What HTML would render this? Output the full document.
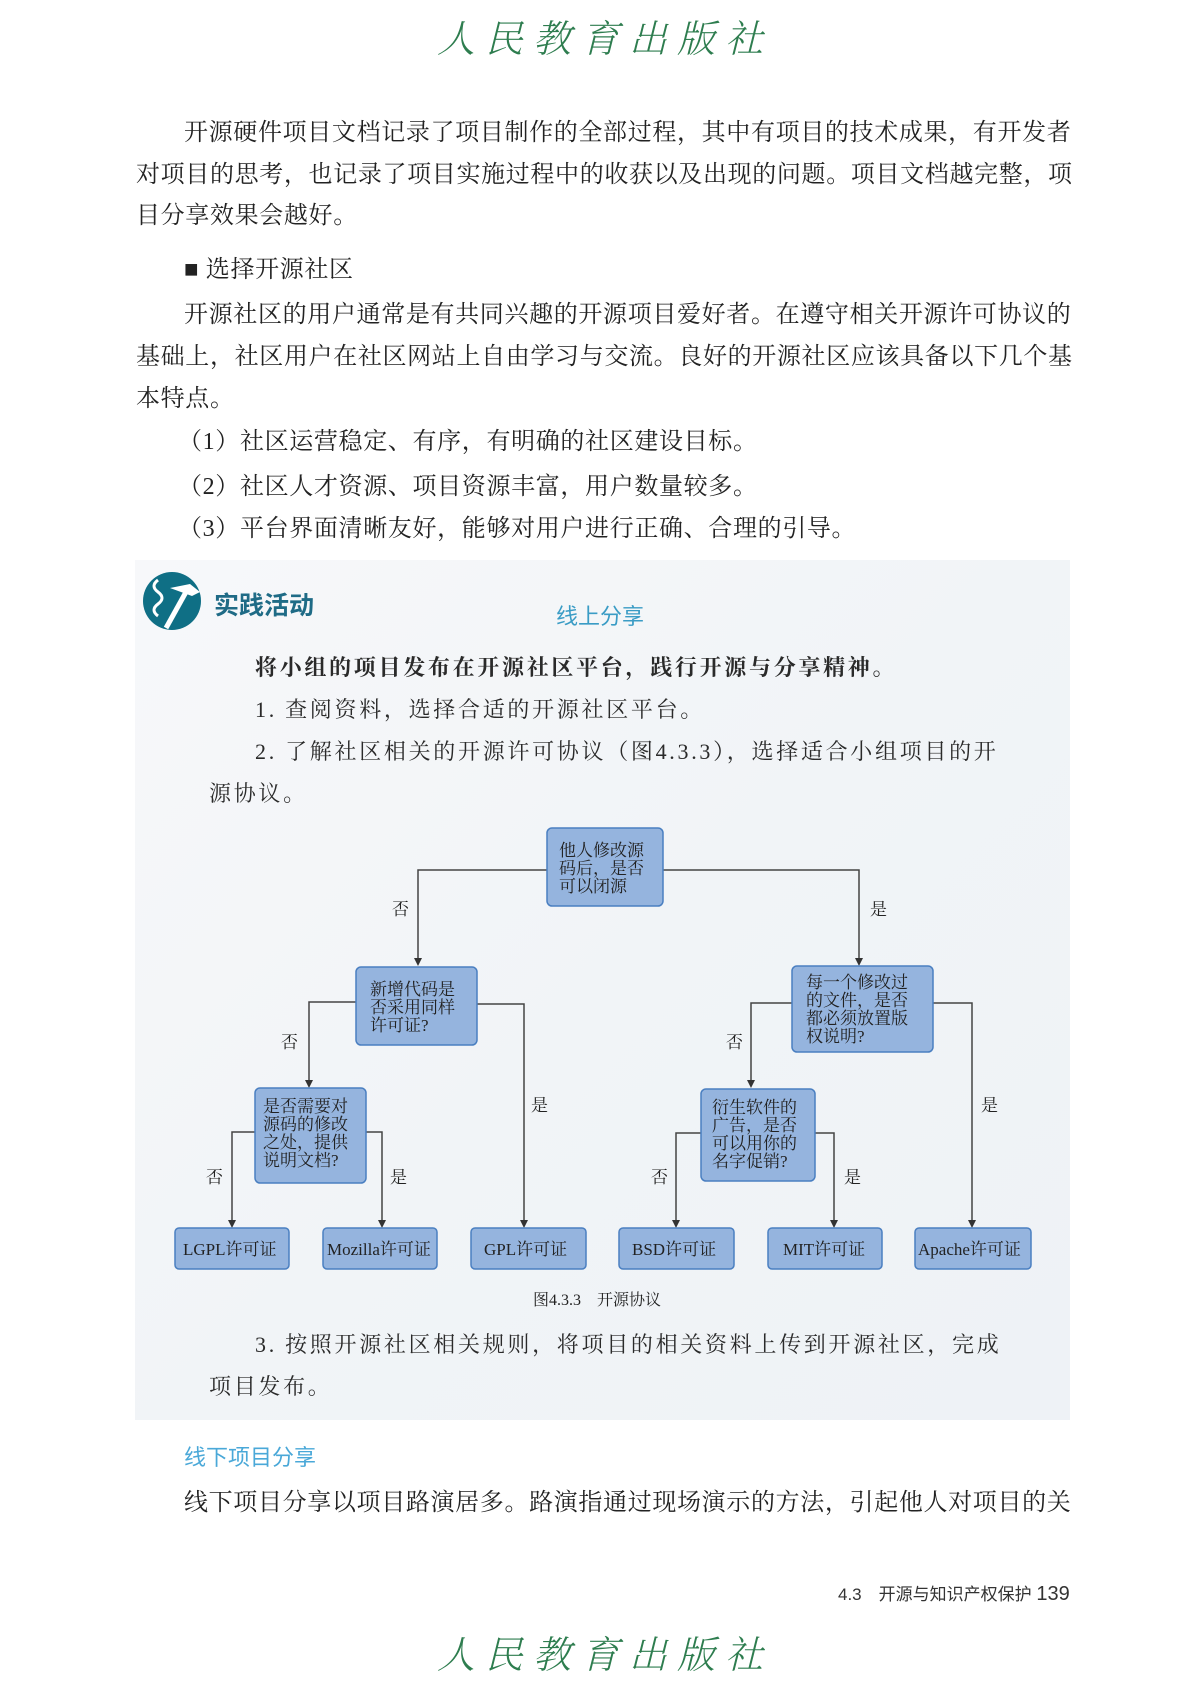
<!DOCTYPE html>
<html><head><meta charset="utf-8"><style>
body{margin:0;width:1190px;height:1683px;position:relative;background:#fff;font-family:"Liberation Serif","Noto Serif CJK SC",serif;color:#222;overflow:hidden}
.a{position:absolute;white-space:nowrap}
.p{font-size:24px;letter-spacing:0.65px;line-height:30px}
.k{font-size:22px;letter-spacing:2.7px;line-height:30px;color:#2a2a2a}
.logo{font-family:"Noto Serif CJK SC",serif;color:#2e7d4f;font-size:38px;letter-spacing:10px;font-style:italic;font-weight:300}
</style></head><body>
<div class="a logo" style="left:437px;top:8px">人民教育出版社</div>

<div class="a p" style="left:184px;top:118px">开源硬件项目文档记录了项目制作的全部过程，其中有项目的技术成果，有开发者</div>
<div class="a p" style="left:136px;top:160px">对项目的思考，也记录了项目实施过程中的收获以及出现的问题。项目文档越完整，项</div>
<div class="a p" style="left:136px;top:201px">目分享效果会越好。</div>
<div class="a p" style="left:184px;top:255px">■ 选择开源社区</div>
<div class="a p" style="left:184px;top:300px">开源社区的用户通常是有共同兴趣的开源项目爱好者。在遵守相关开源许可协议的</div>
<div class="a p" style="left:136px;top:342px">基础上，社区用户在社区网站上自由学习与交流。良好的开源社区应该具备以下几个基</div>
<div class="a p" style="left:136px;top:384px">本特点。</div>
<div class="a p" style="left:178px;top:427px">（1）社区运营稳定、有序，有明确的社区建设目标。</div>
<div class="a p" style="left:178px;top:472px">（2）社区人才资源、项目资源丰富，用户数量较多。</div>
<div class="a p" style="left:178px;top:514px">（3）平台界面清晰友好，能够对用户进行正确、合理的引导。</div>

<div class="a" style="left:135px;top:560px;width:935px;height:860px;background:linear-gradient(135deg,#f7f8fa 0%,#f1f4f7 50%,#eef2f6 100%)"></div>
<svg class="a" style="left:142px;top:570px" width="62" height="62" viewBox="0 0 62 62">
<circle cx="30" cy="31" r="29" fill="#0f6f85"/>
<path d="M16 10 q-8 6 0 12 q8 6 0 12 q-8 6 0 12" stroke="#fff" stroke-width="3" fill="none"/>
<path d="M28 18 l20 -4 l10 8 l-8 4 z" fill="#fff"/>
<line x1="44" y1="22" x2="24" y2="58" stroke="#fff" stroke-width="5"/>
</svg>
<div class="a" style="left:214px;top:586px;font-family:'Liberation Sans','Noto Sans CJK SC',sans-serif;font-weight:bold;font-size:25px;color:#1f6b86">实践活动</div>
<div class="a" style="left:556px;top:599px;font-family:'Liberation Sans','Noto Sans CJK SC',sans-serif;font-size:22px;color:#3a9cc5">线上分享</div>

<div class="a k" style="left:255px;top:653px;font-weight:bold">将小组的项目发布在开源社区平台，践行开源与分享精神。</div>
<div class="a k" style="left:255px;top:695px">1. 查阅资料，选择合适的开源社区平台。</div>
<div class="a k" style="left:255px;top:737px">2. 了解社区相关的开源许可协议（图4.3.3），选择适合小组项目的开</div>
<div class="a k" style="left:209px;top:779px">源协议。</div>

<svg class="a" style="left:0;top:0" width="1190" height="1683">
<g stroke="#444" stroke-width="1.5" fill="none">
<path d="M547,870 H418 V962"/><path d="M663,870 H859 V958"/>
<path d="M356,1002 H309 V1084"/><path d="M477,1004 H524 V1223"/>
<path d="M792,1003 H751 V1084"/><path d="M933,1003 H972 V1223"/>
<path d="M255,1132 H232 V1223"/><path d="M366,1132 H382 V1223"/>
<path d="M701,1133 H676 V1223"/><path d="M815,1133 H834 V1223"/>
</g>
<g fill="#333">
<path d="M414,958 L418,966 L422,958z"/><path d="M855,958 L859,966 L863,958z"/>
<path d="M305,1080 L309,1088 L313,1080z"/><path d="M520,1220 L524,1228 L528,1220z"/>
<path d="M747,1080 L751,1088 L755,1080z"/><path d="M968,1220 L972,1228 L976,1220z"/>
<path d="M228,1220 L232,1228 L236,1220z"/><path d="M378,1220 L382,1228 L386,1220z"/>
<path d="M672,1220 L676,1228 L680,1220z"/><path d="M830,1220 L834,1228 L838,1220z"/>
</g>
<g fill="#95b4de" stroke="#4a7fc1" stroke-width="1.5">
<rect x="547" y="828" width="116" height="78" rx="5"/>
<rect x="356" y="967" width="121" height="78" rx="5"/>
<rect x="792" y="966" width="141" height="86" rx="5"/>
<rect x="255" y="1088" width="111" height="95" rx="5"/>
<rect x="701" y="1089" width="114" height="92" rx="5"/>
<rect x="175" y="1228" width="114" height="41" rx="4"/>
<rect x="323" y="1228" width="114" height="41" rx="4"/>
<rect x="471" y="1228" width="115" height="41" rx="4"/>
<rect x="619" y="1228" width="115" height="41" rx="4"/>
<rect x="768" y="1228" width="114" height="41" rx="4"/>
<rect x="915" y="1228" width="116" height="41" rx="4"/>
</g>
<g font-family="Liberation Serif,Noto Serif CJK SC,serif" font-size="17" fill="#222">
<text x="559" y="856">他人修改源</text><text x="559" y="874">码后，是否</text><text x="559" y="892">可以闭源</text>
<text x="370" y="995">新增代码是</text><text x="370" y="1013">否采用同样</text><text x="370" y="1031">许可证?</text>
<text x="806" y="988">每一个修改过</text><text x="806" y="1006">的文件，是否</text><text x="806" y="1024">都必须放置版</text><text x="806" y="1042">权说明?</text>
<text x="263" y="1112">是否需要对</text><text x="263" y="1130">源码的修改</text><text x="263" y="1148">之处，提供</text><text x="263" y="1166">说明文档?</text>
<text x="712" y="1113">衍生软件的</text><text x="712" y="1131">广告，是否</text><text x="712" y="1149">可以用你的</text><text x="712" y="1167">名字促销?</text>
<text x="183" y="1255">LGPL许可证</text><text x="327" y="1255">Mozilla许可证</text><text x="484" y="1255">GPL许可证</text>
<text x="632" y="1255">BSD许可证</text><text x="783" y="1255">MIT许可证</text><text x="918" y="1255">Apache许可证</text>
<text x="392" y="915">否</text><text x="870" y="915">是</text>
<text x="281" y="1048">否</text><text x="531" y="1111">是</text>
<text x="726" y="1048">否</text><text x="981" y="1111">是</text>
<text x="206" y="1183">否</text><text x="390" y="1183">是</text>
<text x="651" y="1183">否</text><text x="844" y="1183">是</text>
<text x="533" y="1305" font-size="16">图4.3.3　开源协议</text>
</g>
</svg>

<div class="a k" style="left:255px;top:1330px">3. 按照开源社区相关规则，将项目的相关资料上传到开源社区，完成</div>
<div class="a k" style="left:209px;top:1372px">项目发布。</div>

<div class="a" style="left:184px;top:1440px;font-family:'Liberation Sans','Noto Sans CJK SC',sans-serif;font-size:22px;color:#4aa8d8">线下项目分享</div>
<div class="a p" style="left:184px;top:1488px">线下项目分享以项目路演居多。路演指通过现场演示的方法，引起他人对项目的关</div>

<div class="a" style="left:838px;top:1580px;font-family:'Liberation Sans','Noto Sans CJK SC',sans-serif;font-size:17px;color:#333">4.3　开源与知识产权保护 <span style="font-size:20px">139</span></div>
<div class="a logo" style="left:437px;top:1624px">人民教育出版社</div>
</body></html>
